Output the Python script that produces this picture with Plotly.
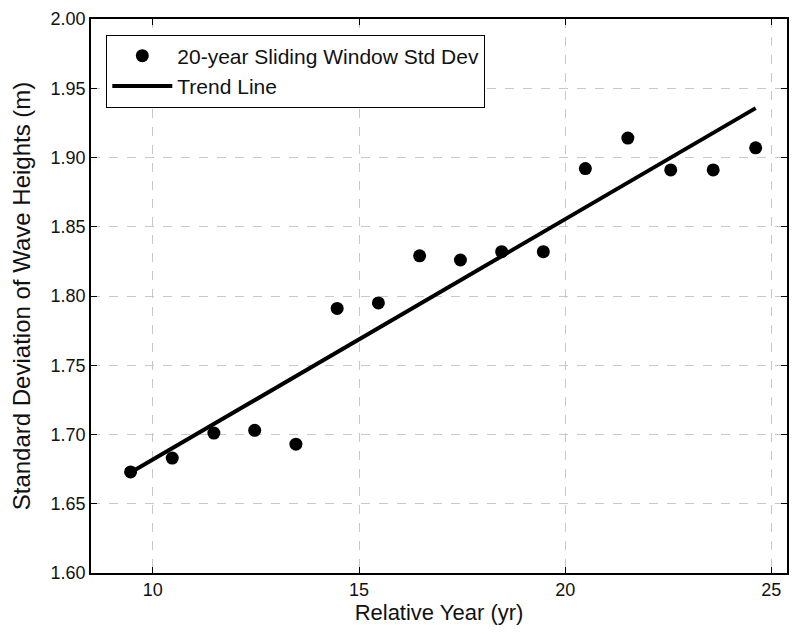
import numpy as np
import plotly.graph_objects as go

# values
rel_year = [9.46, 10.47, 11.48, 12.47, 13.47, 14.47, 15.47, 16.47,
            17.46, 18.46, 19.47, 20.49, 21.52, 22.56, 23.59, 24.62]
std_dev = [1.673, 1.683, 1.701, 1.703, 1.693, 1.791, 1.795, 1.829,
           1.826, 1.832, 1.832, 1.892, 1.914, 1.891, 1.891, 1.907]

x_ticks = [10, 15, 20, 25]
y_ticks = [1.60, 1.65, 1.70, 1.75, 1.80, 1.85, 1.90, 1.95, 2.00]

# least squares trend line
slope, intercept = np.polyfit(rel_year, std_dev, 1)
trend_x = [min(rel_year), max(rel_year)]
trend_y = [slope * v + intercept for v in trend_x]

FONT = "Liberation Sans, Arial, sans-serif"

fig = go.Figure()

fig.add_trace(
    go.Scatter(
        x=rel_year,
        y=std_dev,
        mode="markers",
        name="20-year Sliding Window Std Dev",
        marker=dict(color="black", size=13),
    )
)

fig.add_trace(
    go.Scatter(
        x=trend_x,
        y=trend_y,
        mode="lines",
        name="Trend Line",
        line=dict(color="black", width=4),
    )
)

axis_common = dict(
    automargin=False,
    showline=True,
    linecolor="black",
    linewidth=1.5,
    mirror="ticks",
    ticks="inside",
    ticklen=6,
    tickwidth=1.2,
    tickcolor="black",
    showgrid=True,
    gridcolor="#c8c8c8",
    griddash="dash",
    gridwidth=1,
    zeroline=False,
    tickfont=dict(family=FONT, size=18, color="#111"),
)

fig.update_xaxes(
    range=[8.5, 25.38],
    tickvals=x_ticks,
    title=dict(text="Relative Year (yr)", font=dict(family=FONT, size=22, color="#111"), standoff=4),
    **axis_common,
)
fig.update_yaxes(
    range=[1.60, 2.00],
    tickvals=y_ticks,
    tickformat=".2f",
    title=dict(text="Standard Deviation of Wave Heights (m)", font=dict(family=FONT, size=24, color="#111"), standoff=15),
    **axis_common,
)

# page body adds an 8px offset, margins account for it
fig.update_layout(
    width=800,
    height=640,
    margin=dict(l=83, r=21, t=11, b=75),
    plot_bgcolor="white",
    paper_bgcolor="white",
    font=dict(family=FONT, color="#111"),
    legend=dict(
        x=0.022,
        y=0.972,
        xanchor="left",
        yanchor="top",
        bgcolor="white",
        bordercolor="black",
        borderwidth=1,
        font=dict(family=FONT, size=21, color="#111"),
        tracegroupgap=0,
        itemwidth=60,
    ),
    showlegend=True,
)

fig.write_html("out.html")
